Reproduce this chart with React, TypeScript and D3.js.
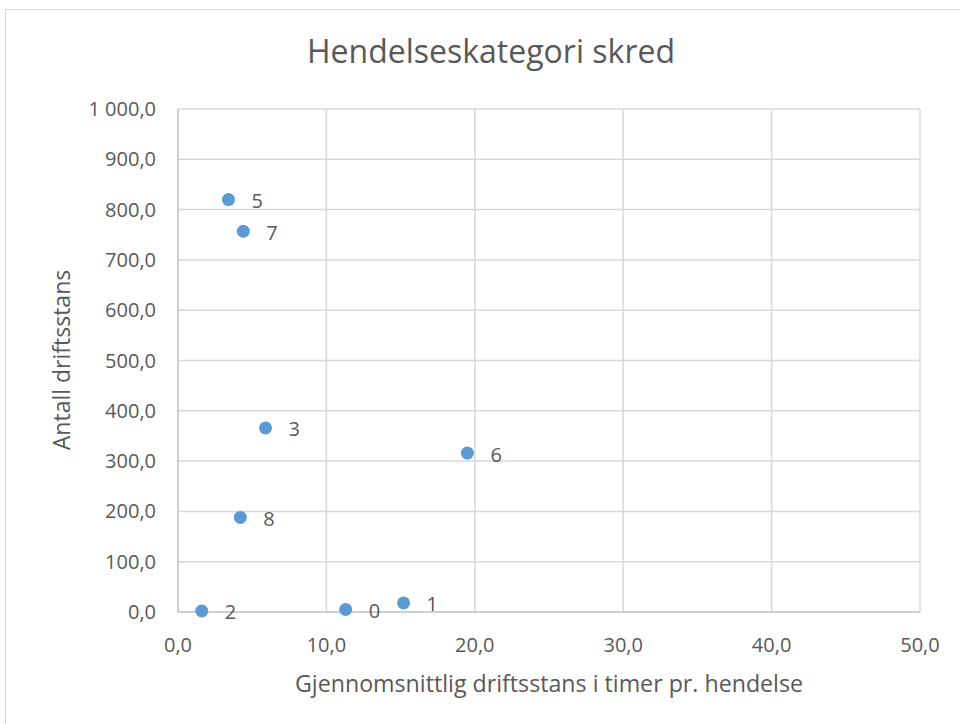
import React from "react";
import * as d3 from "d3";

const labels = ["0", "1", "2", "3", "5", "6", "7", "8"];
const xValues = [11.3, 15.2, 1.6, 5.9, 3.4, 19.5, 4.4, 4.2];
const yValues = [5, 18, 2, 366, 820, 316, 757, 188];
const xTicks = [0, 10, 20, 30, 40, 50];
const yTicks = [0, 100, 200, 300, 400, 500, 600, 700, 800, 900, 1000];

const W = 960;
const H = 724;
const FONT = "'Open Sans', sans-serif";

const locale = d3.formatLocale({ decimal: ",", thousands: " ", grouping: [3], currency: ["", ""] });
const fmt = locale.format(",.1f");

export default function App() {
  const x = d3.scaleLinear().domain([0, 50]).range([178, 920]);
  const y = d3.scaleLinear().domain([0, 1000]).range([612, 109]);
  const textColor = "#595959";
  return (
    <svg width={W} height={H} style={{ position: "absolute", left: 0, top: 0, background: "#fff" }} fontFamily={FONT}>
      <rect x={5.5} y={9.5} width={W} height={H} fill="#fff" stroke="#d9d9d9" strokeWidth={1} />
      <text x={491} y={52} dy="0.35em" textAnchor="middle" fontSize={32} fill={textColor}>Hendelseskategori skred</text>
      {yTicks.map((t) => (
        <g key={"y" + t}>
          {t > 0 && <line x1={x(0)} x2={x(50)} y1={y(t)} y2={y(t)} stroke="#d9d9d9" strokeWidth={1.5} />}
          <text x={156} y={y(t)} dy="0.35em" textAnchor="end" fontSize={20} fill={textColor}>{fmt(t)}</text>
        </g>
      ))}
      {xTicks.map((t) => (
        <g key={"x" + t}>
          {t > 0 && <line x1={x(t)} x2={x(t)} y1={y(0)} y2={y(1000)} stroke="#d9d9d9" strokeWidth={1.5} />}
          <text x={x(t)} y={645} dy="0.35em" textAnchor="middle" fontSize={20} fill={textColor}>{fmt(t)}</text>
        </g>
      ))}
      <line x1={x(0)} x2={x(0)} y1={y(0)} y2={y(1000)} stroke="#bfbfbf" strokeWidth={1.5} />
      <line x1={x(0)} x2={x(50)} y1={y(0)} y2={y(0)} stroke="#bfbfbf" strokeWidth={1.5} />
      {xValues.map((v, i) => (
        <g key={"p" + i}>
          <circle cx={x(v)} cy={y(yValues[i])} r={6.5} fill="#5B9BD5" />
          <text x={x(v) + 23} y={y(yValues[i]) + 1.5} dy="0.35em" fontSize={20} fill={textColor}>{labels[i]}</text>
        </g>
      ))}
      <text x={549} y={684} dy="0.35em" textAnchor="middle" fontSize={23.2} fill={textColor}>Gjennomsnittlig driftsstans i timer pr. hendelse</text>
      <text transform={`translate(62,360) rotate(-90)`} dy="0.35em" textAnchor="middle" fontSize={23} fill={textColor}>Antall driftsstans</text>
    </svg>
  );
}
